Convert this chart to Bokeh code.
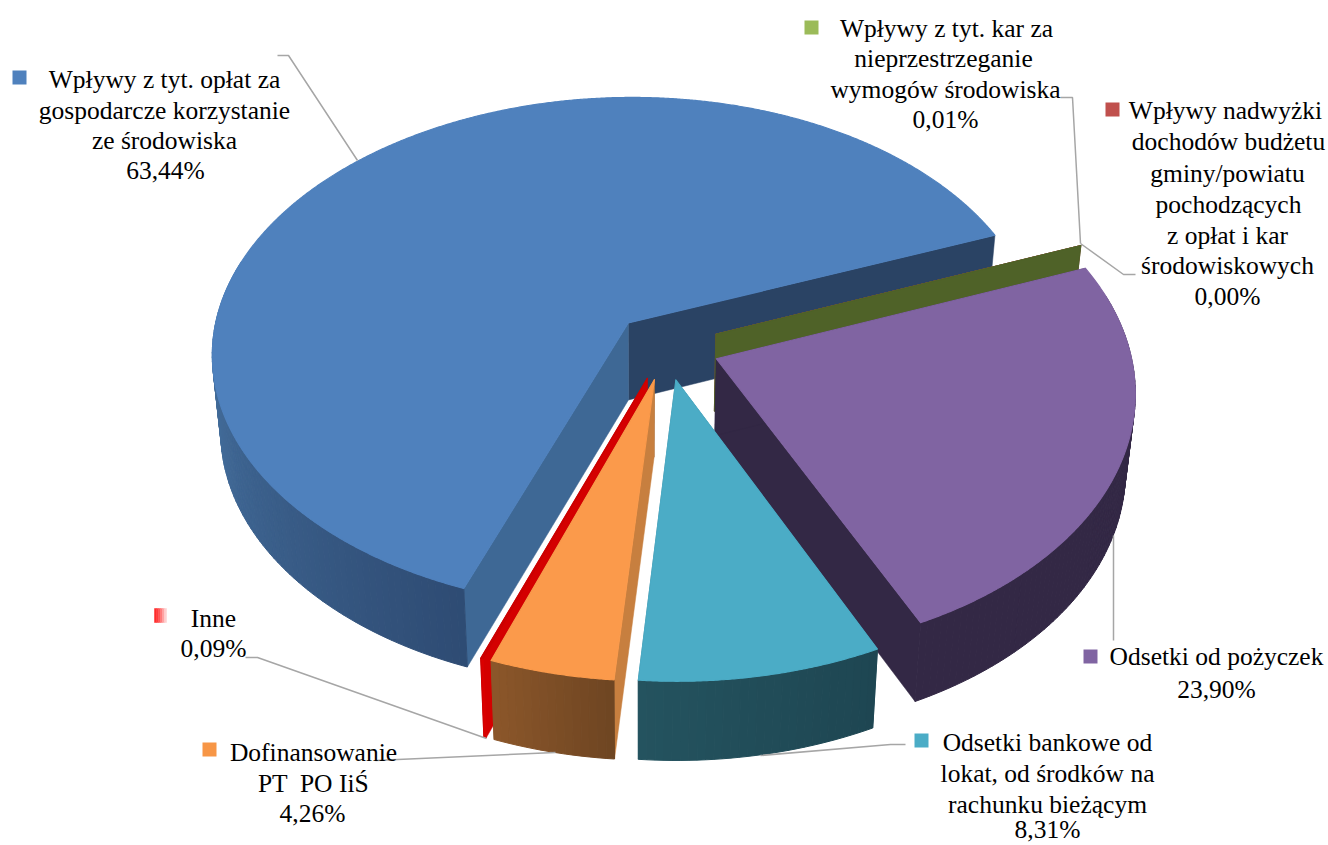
import numpy as np
from bokeh.plotting import figure
from bokeh.models import Range1d
from bokeh.embed import file_html
from bokeh.resources import INLINE
from bokeh.core.properties import value

# ---- data (percent shares, counter-clockwise from the first slice) ----
names = ["Wpływy z tyt. opłat za gospodarcze korzystanie ze środowiska", "Inne",
         "Dofinansowanie PT  PO IiŚ", "Odsetki bankowe od lokat, od środków na rachunku bieżącym",
         "Odsetki od pożyczek", "Wpływy z tyt. kar za nieprzestrzeganie wymogów środowiska",
         "Wpływy nadwyżki dochodów budżetu gminy/powiatu pochodzących z opłat i kar środowiskowych"]
shares = [63.44, 0.09, 4.26, 8.31, 23.90, 0.01, 0.00]
top_colors = ["#4f81bd", "#cc0000", "#fb9a4b", "#4bacc6", "#8064a2", "#4f6228", "#c0504d"]
start_wall = ["#2a4364", "#cc0000", "#8a5529", "#1f4f5e", "#332845", "#4f6228", "#8a3a38"]
end_wall = ["#3e6895", "#d40000", "#c77f3f", "#1f4f5e", "#332845", "#4f6228", "#8a3a38"]
rim_from = ["#4a78a8", "#cc0000", "#8c572a", "#24535f", "#332845", "#4f6228", "#8a3a38"]
rim_to = ["#2e4b73", "#e00000", "#6e4522", "#1e4652", "#332845", "#4f6228", "#8a3a38"]
draw_order = [0, 6, 5, 4, 3, 1, 2]

# ---- labels: (text, centre x, centre y) ----
label_text = ["Wpływy z tyt. opłat za", "gospodarcze korzystanie", "ze środowiska", "63,44%",
              "Wpływy z tyt. kar za", "nieprzestrzeganie", "wymogów środowiska", "0,01%",
              "Wpływy nadwyżki", "dochodów budżetu", "gminy/powiatu", "pochodzących",
              "z opłat i kar", "środowiskowych", "0,00%",
              "Odsetki od pożyczek", "23,90%",
              "Odsetki bankowe od", "lokat, od środków na", "rachunku bieżącym", "8,31%",
              "Dofinansowanie", "PT \u00a0PO IiŚ", "4,26%",
              "Inne", "0,09%"]
label_x = [164, 164, 164, 165,
           946, 943, 945, 945,
           1225, 1228, 1227, 1228, 1227, 1227, 1227,
           1216, 1216,
           1047, 1047, 1047, 1047,
           313, 313, 312,
           213, 213]
label_y = [79, 110, 140, 170,
           28, 58, 89, 119,
           110, 141, 173, 204, 235, 265, 296,
           656, 689,
           742, 773, 804, 829,
           752, 783, 813,
           618, 648]

marker_x = [12, 804, 1105, 1083, 914, 202]
marker_y = [70, 20, 102, 649, 733, 742]
marker_col = ["#4f81bd", "#9bbb59", "#c0504d", "#8064a2", "#4bacc6", "#f79646"]

leaders_x = [[277, 288, 357], [1060, 1072, 1080], [1135, 1123, 1080], [1113, 1113],
             [905, 890, 760], [375, 555], [245, 257, 486]]
leaders_y = [[55, 55, 160], [97, 97, 243], [274, 274, 243], [535, 640],
             [744, 744, 755], [760, 752], [657, 657, 738]]

# ---- projection of the pie plane to the page ----
CX, CY, A, B, K = 665.6, 345.8, 413.0, 257.5, 0.118
LEFT_STRETCH = 0.0075
EXPLODE = 0.13
FIRST_ANGLE = 21.3


def proj(u, v, low=False):
    u = np.asarray(u, float)
    v = np.asarray(v, float)
    s = 1.0 / (1.0 - K * v)
    x = CX + A * u * s * (1.0 + LEFT_STRETCH * np.minimum(u, 0.0) ** 2)
    y = CY + B * v * s
    if low:
        x = x - 0.02 * (x - 640.0)
        y = y + 63.0 + 14.0 * s
    return x, y


def hex2rgb(h):
    return np.array([int(h[i:i + 2], 16) for i in (1, 3, 5)], float)


def lerp(c1, c2, t):
    a, b = hex2rgb(c1), hex2rgb(c2)
    c = a + (b - a) * t
    return "#%02x%02x%02x" % tuple(int(round(q)) for q in c)


p = figure(width=1328, height=845, x_range=Range1d(0, 1328), y_range=Range1d(845, 0),
           toolbar_location=None, output_backend="svg", min_border=0,
           background_fill_color="white", outline_line_color=None)
p.axis.visible = False
p.grid.visible = False

sweeps = np.array(shares) / sum(shares) * 360.0
starts = FIRST_ANGLE + np.concatenate([[0], np.cumsum(sweeps)[:-1]])

for i in draw_order:
    a0 = np.radians(starts[i])
    a1 = np.radians(starts[i] + sweeps[i])
    mid = (a0 + a1) / 2
    ou, ov = EXPLODE * np.cos(mid), -EXPLODE * np.sin(mid)
    n = max(2, int(sweeps[i] * 1.0))
    ang = np.linspace(a0, a1, n + 1)
    ru, rv = ou + np.cos(ang), ov - np.sin(ang)

    ax_t, ay_t = proj(ou, ov)
    ax_b, ay_b = proj(ou, ov, True)
    tx, ty = proj(ru, rv)
    bx, by = proj(ru, rv, True)

    # flat inner walls
    p.patch([float(ax_t), tx[0], bx[0], float(ax_b)], [float(ay_t), ty[0], by[0], float(ay_b)],
            fill_color=start_wall[i], line_color=start_wall[i], line_width=0.5)
    p.patch([float(ax_t), tx[-1], bx[-1], float(ax_b)], [float(ay_t), ty[-1], by[-1], float(ay_b)],
            fill_color=end_wall[i], line_color=end_wall[i], line_width=0.5)

    # outer rim, shaded: lighter to the left, darker towards the front
    qx, qy, qc = [], [], []
    for k in range(n):
        if np.sin((ang[k] + ang[k + 1]) / 2) > 0.25:
            continue
        qx.append([tx[k], tx[k + 1], bx[k + 1], bx[k]])
        qy.append([ty[k], ty[k + 1], by[k + 1], by[k]])
        qc.append(lerp(rim_from[i], rim_to[i], (k + 0.5) / n if i != 0 else
                       np.clip((np.degrees(ang[k]) - 170.0) / (starts[i] + sweeps[i] - 170.0), 0, 1)))
    if qx:
        p.patches(qx, qy, fill_color=qc, line_color=qc, line_width=1.0)

    # top face, drawn on a finer arc
    fine = np.linspace(a0, a1, max(2, int(sweeps[i] * 4)) + 1)
    fx, fy = proj(ou + np.cos(fine), ov - np.sin(fine))
    p.patch([float(ax_t)] + fx.tolist(), [float(ay_t)] + fy.tolist(),
            fill_color=top_colors[i], line_color=top_colors[i], line_width=1.1, line_join="round")

# leader lines
p.multi_line(leaders_x, leaders_y, line_color="#a6a6a6", line_width=1.5)

# legend keys
p.quad(left=marker_x, right=[x + 14 for x in marker_x], top=marker_y,
       bottom=[y + 14 for y in marker_y], fill_color=marker_col, line_color=None)
inne_key = ["#ff2b2b", "#ff3c3c", "#ff5656", "#ff7a7a", "#ffa3a3", "#ffcfcf"]
p.quad(left=[154 + 2 * j for j in range(6)], right=[156 + 2 * j for j in range(6)],
       top=[608] * 6, bottom=[622] * 6, fill_color=inne_key, line_color=inne_key, line_width=0.5)

p.text(label_x, label_y, text=label_text, text_font=value("Liberation Serif"),
       text_font_size="25.5px", text_align="center", text_baseline="middle", text_color="#000000")

open("out.html", "w").write(file_html(p, INLINE))
